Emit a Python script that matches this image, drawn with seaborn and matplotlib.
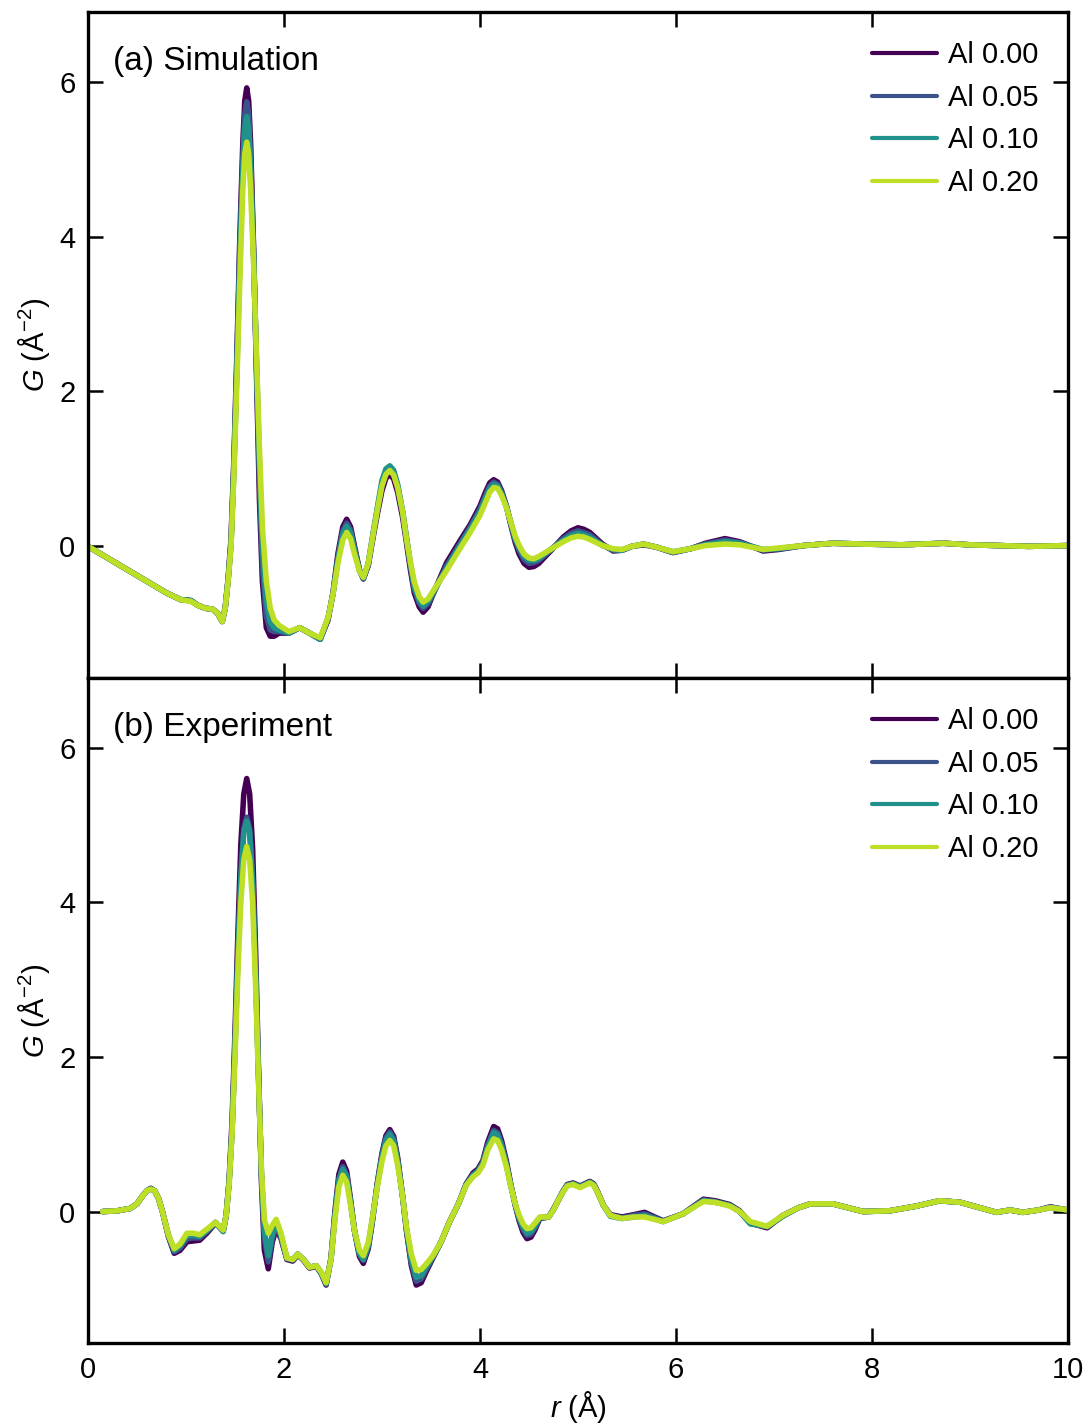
import numpy as np
import pandas as pd
import matplotlib
matplotlib.use("Agg")
import matplotlib.pyplot as plt
from matplotlib.lines import Line2D
import seaborn as sns

# ---------------- data ----------------
series_labels = ["Al 0.00", "Al 0.05", "Al 0.10", "Al 0.20"]
series_colors = ["#440154", "#3b528b", "#21918c", "#bddf26"]

r_sim = [0.00, 0.20, 0.40, 0.60, 0.80, 0.95, 1.05, 1.12, 1.20, 1.27, 1.32,
         1.37, 1.40, 1.43, 1.46, 1.49, 1.52, 1.55, 1.58, 1.60, 1.62, 1.64, 1.66, 1.69, 1.72, 1.75, 1.78, 1.82, 1.86, 1.90, 1.95,
         2.05, 2.16, 2.26, 2.37,
         2.45, 2.50, 2.55, 2.60, 2.64, 2.68, 2.72, 2.77, 2.81, 2.86, 2.90, 2.95, 3.00, 3.04, 3.08, 3.12, 3.16, 3.21, 3.25, 3.29, 3.33, 3.38, 3.42, 3.47, 3.52,
         3.66, 3.80, 3.90, 4.00, 4.05, 4.10, 4.14, 4.18, 4.22, 4.27, 4.31, 4.36, 4.40, 4.45, 4.50, 4.55, 4.60, 4.72, 4.85, 4.93, 5.00, 5.06, 5.12, 5.25,
         5.36, 5.45, 5.55, 5.67, 5.80, 5.97, 6.15, 6.30, 6.50, 6.65, 6.89, 7.05, 7.30, 7.60, 7.90, 8.30, 8.73, 9.00, 9.30, 9.60, 10.00]
sim_al000 = [0.00, -0.15, -0.30, -0.45, -0.60, -0.69, -0.70, -0.76, -0.80, -0.81, -0.86,
             -0.97, -0.80, -0.42, 0.10, 1.15, 2.50, 4.00, 5.20, 5.75, 5.92, 5.75, 5.20, 3.85, 2.20, 0.60, -0.45, -1.05, -1.16, -1.16, -1.12,
             -1.12, -1.05, -1.12, -1.20,
             -0.95, -0.60, -0.10, 0.25, 0.35, 0.25, 0.00, -0.30, -0.42, -0.25, 0.05, 0.40, 0.72, 0.88, 0.93, 0.87, 0.70, 0.38, 0.05, -0.30, -0.60, -0.78, -0.85, -0.78, -0.62,
             -0.21, 0.08, 0.28, 0.52, 0.68, 0.82, 0.86, 0.83, 0.72, 0.52, 0.30, 0.05, -0.10, -0.22, -0.27, -0.26, -0.22, -0.06, 0.12, 0.20, 0.24, 0.22, 0.18, 0.03,
             -0.06, -0.05, 0.00, 0.02, -0.01, -0.08, -0.03, 0.04, 0.10, 0.06, -0.06, -0.04, 0.01, 0.04, 0.03, 0.02, 0.04, 0.02, 0.01, 0.00, 0.01]
sim_al005 = [0.00, -0.15, -0.30, -0.45, -0.60, -0.69, -0.70, -0.76, -0.80, -0.81, -0.86,
             -0.97, -0.80, -0.43, 0.06, 1.08, 2.40, 3.85, 5.00, 5.58, 5.74, 5.58, 5.00, 3.80, 2.30, 0.85, -0.25, -0.90, -1.08, -1.10, -1.10,
             -1.12, -1.05, -1.12, -1.20,
             -0.93, -0.61, -0.15, 0.20, 0.30, 0.21, -0.03, -0.31, -0.42, -0.23, 0.08, 0.45, 0.80, 0.95, 1.00, 0.94, 0.78, 0.44, 0.10, -0.25, -0.55, -0.73, -0.80, -0.74, -0.62,
             -0.25, 0.04, 0.25, 0.48, 0.64, 0.78, 0.83, 0.80, 0.70, 0.52, 0.32, 0.08, -0.05, -0.17, -0.22, -0.21, -0.18, -0.05, 0.10, 0.17, 0.20, 0.18, 0.15, 0.02,
             -0.05, -0.05, 0.00, 0.03, -0.01, -0.08, -0.03, 0.03, 0.08, 0.05, -0.05, -0.03, 0.01, 0.04, 0.03, 0.02, 0.04, 0.02, 0.01, 0.00, 0.01]
sim_al010 = [0.00, -0.15, -0.30, -0.45, -0.60, -0.69, -0.70, -0.76, -0.80, -0.81, -0.86,
             -0.97, -0.80, -0.44, 0.03, 1.02, 2.30, 3.70, 4.85, 5.40, 5.55, 5.40, 4.85, 3.75, 2.38, 1.05, 0.00, -0.72, -0.98, -1.05, -1.08,
             -1.12, -1.05, -1.12, -1.20,
             -0.92, -0.62, -0.18, 0.16, 0.26, 0.17, -0.05, -0.31, -0.41, -0.22, 0.10, 0.48, 0.85, 1.00, 1.04, 0.98, 0.80, 0.46, 0.12, -0.22, -0.52, -0.70, -0.77, -0.71, -0.60,
             -0.28, 0.02, 0.22, 0.45, 0.60, 0.75, 0.80, 0.78, 0.68, 0.51, 0.33, 0.10, -0.02, -0.13, -0.18, -0.18, -0.16, -0.04, 0.08, 0.14, 0.17, 0.15, 0.12, 0.01,
             -0.04, -0.05, 0.00, 0.03, -0.01, -0.07, -0.03, 0.02, 0.06, 0.04, -0.04, -0.03, 0.01, 0.04, 0.03, 0.02, 0.04, 0.02, 0.01, 0.00, 0.01]
sim_al020 = [0.00, -0.15, -0.30, -0.45, -0.60, -0.69, -0.71, -0.76, -0.80, -0.81, -0.86,
             -0.97, -0.80, -0.45, 0.00, 0.95, 2.15, 3.45, 4.60, 5.07, 5.22, 5.07, 4.60, 3.65, 2.45, 1.25, 0.25, -0.45, -0.80, -0.95, -1.02,
             -1.10, -1.05, -1.12, -1.18,
             -0.92, -0.62, -0.22, 0.08, 0.18, 0.10, -0.10, -0.32, -0.40, -0.22, 0.08, 0.45, 0.78, 0.93, 0.98, 0.92, 0.76, 0.45, 0.10, -0.20, -0.46, -0.65, -0.72, -0.68, -0.58,
             -0.31, -0.02, 0.18, 0.40, 0.55, 0.70, 0.76, 0.75, 0.66, 0.50, 0.33, 0.13, 0.01, -0.10, -0.15, -0.16, -0.13, -0.04, 0.06, 0.11, 0.13, 0.12, 0.09, 0.01,
             -0.03, -0.04, 0.00, 0.03, -0.01, -0.07, -0.03, 0.01, 0.03, 0.02, -0.04, -0.02, 0.01, 0.04, 0.03, 0.02, 0.04, 0.02, 0.01, 0.00, 0.01]

r_exp = [0.15, 0.30, 0.43, 0.50, 0.55, 0.60, 0.64, 0.68, 0.72, 0.76, 0.82, 0.88, 0.94, 1.01, 1.08, 1.14, 1.22, 1.30,
         1.38, 1.41, 1.44, 1.47, 1.50, 1.53, 1.56, 1.59, 1.62, 1.65, 1.68, 1.71, 1.74, 1.77, 1.80, 1.84, 1.88, 1.92, 1.97,
         2.03, 2.09, 2.14, 2.20, 2.26, 2.33, 2.38,
         2.43, 2.48, 2.52, 2.56, 2.60, 2.64, 2.68, 2.72, 2.77, 2.81, 2.86, 2.90, 2.95, 3.00, 3.04, 3.08, 3.12, 3.16, 3.21, 3.25, 3.30, 3.35, 3.40, 3.45,
         3.52, 3.60, 3.69, 3.78, 3.86, 3.93, 3.98, 4.03, 4.08, 4.14, 4.18, 4.22, 4.27, 4.31, 4.36, 4.40, 4.44, 4.48, 4.52, 4.56, 4.61, 4.70, 4.75, 4.80, 4.85, 4.89, 4.95, 5.02, 5.07, 5.12, 5.16, 5.20, 5.26, 5.33,
         5.45, 5.57, 5.68, 5.87, 6.07, 6.28, 6.40, 6.55, 6.65, 6.76, 6.93, 7.09, 7.25, 7.37, 7.60, 7.91, 8.18, 8.45, 8.69, 8.90, 9.10, 9.27, 9.41, 9.54, 9.70, 9.82, 9.95, 10.00]
exp_al000 = [0.00, 0.01, 0.04, 0.10, 0.19, 0.27, 0.30, 0.27, 0.17, 0.00, -0.32, -0.54, -0.50, -0.39, -0.38, -0.37, -0.27, -0.15,
             -0.25, -0.05, 0.40, 1.15, 2.30, 3.60, 4.75, 5.40, 5.60, 5.40, 4.70, 3.40, 1.85, 0.40, -0.50, -0.74, -0.40, -0.22, -0.35,
             -0.62, -0.64, -0.56, -0.63, -0.73, -0.71, -0.80,
             -0.95, -0.60, 0.00, 0.48, 0.64, 0.52, 0.15, -0.25, -0.58, -0.67, -0.48, -0.15, 0.35, 0.75, 0.98, 1.06, 0.97, 0.70, 0.20, -0.25, -0.70, -0.95, -0.92, -0.78,
             -0.60, -0.40, -0.13, 0.10, 0.36, 0.50, 0.55, 0.66, 0.90, 1.10, 1.07, 0.92, 0.65, 0.38, 0.08, -0.12, -0.27, -0.35, -0.33, -0.24, -0.09, -0.07, 0.03, 0.15, 0.27, 0.35, 0.37, 0.33, 0.36, 0.39, 0.36, 0.26, 0.08, -0.04,
             -0.07, -0.04, -0.01, -0.12, -0.03, 0.16, 0.14, 0.09, 0.01, -0.15, -0.21, -0.05, 0.05, 0.10, 0.10, 0.00, 0.01, 0.07, 0.14, 0.12, 0.05, -0.01, 0.02, -0.01, 0.02, 0.06, 0.03, 0.02]
exp_al005 = [0.00, 0.01, 0.04, 0.10, 0.19, 0.27, 0.30, 0.27, 0.17, 0.00, -0.31, -0.52, -0.47, -0.35, -0.34, -0.34, -0.25, -0.14,
             -0.25, -0.05, 0.38, 1.05, 2.15, 3.35, 4.35, 4.95, 5.10, 4.95, 4.30, 3.15, 1.78, 0.48, -0.33, -0.65, -0.35, -0.18, -0.33,
             -0.61, -0.63, -0.55, -0.62, -0.72, -0.70, -0.80,
             -0.94, -0.61, -0.04, 0.42, 0.58, 0.47, 0.12, -0.25, -0.55, -0.63, -0.45, -0.13, 0.33, 0.72, 0.95, 1.03, 0.94, 0.67, 0.20, -0.23, -0.66, -0.90, -0.87, -0.75,
             -0.59, -0.40, -0.13, 0.10, 0.35, 0.48, 0.53, 0.64, 0.86, 1.05, 1.02, 0.88, 0.62, 0.37, 0.09, -0.10, -0.23, -0.31, -0.29, -0.21, -0.08, -0.07, 0.03, 0.15, 0.27, 0.34, 0.36, 0.32, 0.35, 0.38, 0.35, 0.25, 0.08, -0.05,
             -0.08, -0.05, -0.03, -0.12, -0.03, 0.15, 0.13, 0.08, 0.00, -0.15, -0.20, -0.06, 0.05, 0.10, 0.10, 0.00, 0.01, 0.07, 0.14, 0.12, 0.05, -0.01, 0.02, -0.01, 0.02, 0.06, 0.03, 0.02]
exp_al010 = [0.00, 0.01, 0.04, 0.10, 0.19, 0.27, 0.29, 0.27, 0.17, 0.00, -0.30, -0.50, -0.44, -0.31, -0.31, -0.32, -0.24, -0.14,
             -0.26, -0.05, 0.37, 1.03, 2.10, 3.30, 4.30, 4.90, 5.05, 4.90, 4.25, 3.10, 1.75, 0.50, -0.25, -0.57, -0.30, -0.15, -0.31,
             -0.60, -0.62, -0.55, -0.62, -0.72, -0.70, -0.79,
             -0.93, -0.62, -0.06, 0.40, 0.55, 0.45, 0.11, -0.25, -0.54, -0.62, -0.44, -0.12, 0.32, 0.70, 0.92, 1.00, 0.91, 0.65, 0.20, -0.22, -0.63, -0.85, -0.83, -0.72,
             -0.58, -0.40, -0.13, 0.10, 0.35, 0.47, 0.52, 0.62, 0.84, 1.02, 0.99, 0.85, 0.60, 0.36, 0.09, -0.08, -0.20, -0.28, -0.26, -0.19, -0.08, -0.07, 0.02, 0.15, 0.26, 0.34, 0.36, 0.32, 0.35, 0.38, 0.35, 0.25, 0.08, -0.06,
             -0.09, -0.07, -0.05, -0.13, -0.03, 0.14, 0.12, 0.08, 0.00, -0.16, -0.19, -0.06, 0.05, 0.10, 0.10, 0.00, 0.01, 0.07, 0.14, 0.12, 0.05, -0.01, 0.02, -0.01, 0.02, 0.05, 0.03, 0.02]
exp_al020 = [0.00, 0.01, 0.04, 0.10, 0.19, 0.27, 0.29, 0.27, 0.17, 0.00, -0.30, -0.48, -0.42, -0.28, -0.28, -0.30, -0.22, -0.14,
             -0.24, -0.05, 0.35, 1.00, 2.00, 3.10, 4.00, 4.55, 4.72, 4.55, 4.00, 2.95, 1.70, 0.55, -0.10, -0.28, -0.18, -0.10, -0.28,
             -0.60, -0.62, -0.55, -0.62, -0.72, -0.70, -0.78,
             -0.92, -0.62, -0.10, 0.32, 0.47, 0.38, 0.08, -0.25, -0.50, -0.57, -0.40, -0.10, 0.30, 0.65, 0.85, 0.92, 0.85, 0.60, 0.20, -0.20, -0.55, -0.76, -0.75, -0.68,
             -0.57, -0.40, -0.13, 0.10, 0.34, 0.45, 0.50, 0.60, 0.80, 0.94, 0.92, 0.80, 0.58, 0.35, 0.10, -0.05, -0.16, -0.22, -0.21, -0.15, -0.07, -0.07, 0.02, 0.15, 0.26, 0.33, 0.35, 0.31, 0.34, 0.37, 0.34, 0.25, 0.08, -0.05,
             -0.09, -0.07, -0.07, -0.13, -0.03, 0.13, 0.12, 0.07, 0.00, -0.13, -0.19, -0.05, 0.05, 0.10, 0.10, 0.00, 0.01, 0.07, 0.14, 0.12, 0.05, -0.01, 0.02, -0.01, 0.02, 0.05, 0.03, 0.02]

x_ticks = [0, 2, 4, 6, 8, 10]
y_ticks = [0, 2, 4, 6]
panel_titles = ["(a) Simulation", "(b) Experiment"]


def long_frame(r, cols):
    frames = []
    for lab, vals in zip(series_labels, cols):
        n = min(len(r), len(vals))
        frames.append(pd.DataFrame({"r": r[:n], "G": vals[:n], "series": lab}))
    return pd.concat(frames, ignore_index=True)


df_sim = long_frame(r_sim, [sim_al000, sim_al005, sim_al010, sim_al020])
df_exp = long_frame(r_exp, [exp_al000, exp_al005, exp_al010, exp_al020])

# ---------------- style ----------------
sns.set_theme(style="ticks")
plt.rcParams["font.family"] = ["Liberation Sans", "DejaVu Sans"]
plt.rcParams["mathtext.fontset"] = "custom"
plt.rcParams["mathtext.rm"] = "Liberation Sans"
plt.rcParams["mathtext.it"] = "Liberation Sans:italic"
for k in ["text.color", "axes.labelcolor", "xtick.color", "ytick.color", "axes.edgecolor"]:
    plt.rcParams[k] = "black"

fig = plt.figure(figsize=(10.9, 14.28), dpi=100)
ax_top = fig.add_axes([0.0807, 0.5252, 0.8991, 0.4664])
ax_bot = fig.add_axes([0.0807, 0.0595, 0.8991, 0.4657])

palette = dict(zip(series_labels, series_colors))

for ax, df, title in [(ax_top, df_sim, panel_titles[0]), (ax_bot, df_exp, panel_titles[1])]:
    sns.lineplot(data=df, x="r", y="G", hue="series", hue_order=series_labels,
                 palette=palette, sort=False, estimator=None, linewidth=4,
                 ax=ax, legend=False)
    ax.set_xlim(0, 10)
    ax.set_ylim(-1.7, 6.9)
    ax.set_xticks(x_ticks)
    ax.set_yticks(y_ticks)
    ax.tick_params(direction="in", length=11, width=1.8, labelsize=21,
                   top=True, right=True, pad=9, colors="black")
    for s in ax.spines.values():
        s.set_linewidth(2.4)
        s.set_color("black")
    ax.set_ylabel(r"$G$ (Å$^{-2}$)", fontsize=21, labelpad=5)
    ax.text(0.0255, 0.925, title, transform=ax.transAxes, fontsize=24,
            ha="left", va="center")
    handles = [Line2D([0], [0], color=c, lw=3) for c in series_colors]
    ax.legend(handles, series_labels, loc="upper right", frameon=False,
              fontsize=21, handlelength=2.2, handletextpad=0.4,
              labelspacing=0.5, borderaxespad=0.6, borderpad=0.4)

ax_top.set_xlabel("")
ax_top.tick_params(labelbottom=False)
ax_bot.set_xlabel(r"$r$ (Å)", fontsize=21, labelpad=4)

fig.savefig("out.png", dpi=100)
